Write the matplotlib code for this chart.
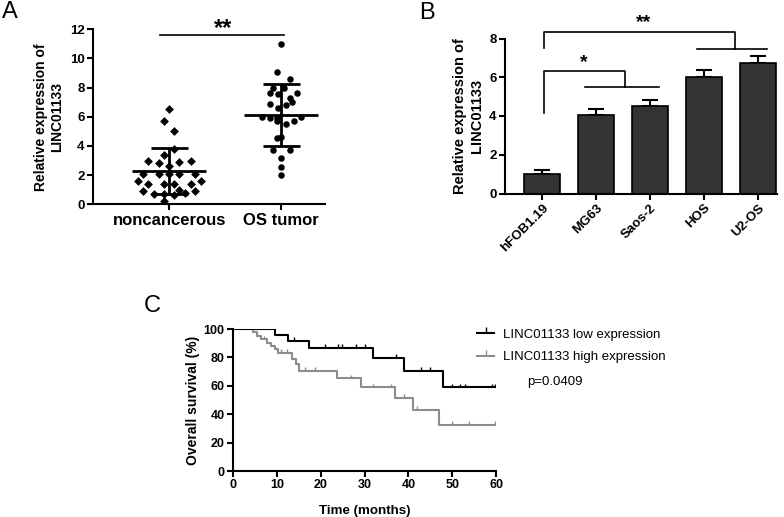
import matplotlib
matplotlib.use("Agg")
import matplotlib.pyplot as plt
from matplotlib.lines import Line2D

plt.rcParams['font.family'] = ['Liberation Sans', 'DejaVu Sans']

# ---- panel A: scatter with mean +/- SD
groups_a = ["noncancerous", "OS tumor"]
normal_dx = [0, -0.05, 0.045, 0.045, -0.05, -0.19, -0.095, 0.09, 0.19, 0,
             -0.235, -0.095, 0, 0.09, 0.23, -0.28, -0.19, -0.05, 0.045, 0.19,
             0.28, -0.235, 0.09, 0.23, -0.14, -0.05, 0.045, 0.14, -0.05]
normal_val = [6.51, 5.69, 5.0, 3.8, 3.4, 2.97, 2.8, 2.93, 2.97, 2.65,
              2.1, 2.06, 2.06, 2.06, 2.1, 1.6, 1.42, 1.42, 1.42, 1.42,
              1.6, 0.91, 0.96, 0.91, 0.69, 0.69, 0.64, 0.8, 0.25]
tumor_dx = [0, -0.035, 0.075, -0.07, 0.02, -0.105, -0.025, 0.14, 0.075, -0.105,
            0.1, -0.025, 0.04, -0.175, -0.105, -0.04, 0.175, -0.035, 0.04, 0.11,
            -0.035, 0, -0.07, 0.075, 0, 0, 0]
tumor_val = [11.0, 9.1, 8.6, 8.0, 8.0, 7.6, 7.57, 7.6, 7.3, 6.9,
             7.04, 6.6, 6.8, 6.0, 5.94, 5.9, 6.0, 5.7, 5.5, 5.7,
             4.57, 4.64, 3.7, 3.7, 3.2, 2.58, 2.0]
means_a = [2.25, 6.13]
sd_lo_a = [0.71, 4.02]
sd_hi_a = [3.84, 8.25]

# ---- panel B: bars
cells = ["hFOB1.19", "MG63", "Saos-2", "HOS", "U2-OS"]
bar_val = [1.02, 4.03, 4.5, 6.02, 6.72]
bar_err = [0.18, 0.32, 0.32, 0.38, 0.37]

# ---- panel C: Kaplan-Meier steps
low_t = [0, 9.5, 12.5, 17.3, 32, 39, 48, 60]
low_s = [100, 95.5, 91.6, 86.7, 79.6, 70.3, 59.0, 59.0]
low_cens_t = [1.4, 2.4, 3.4, 4.5, 5.5, 6.5, 7.5, 8.7, 13.9, 21.1, 24, 24.9, 28,
              30, 37.1, 43.0, 45, 49.9, 51.8, 53, 59, 59.8]
high_t = [0, 4.5, 5.5, 6.5, 7.8, 8.6, 9.5, 10.2, 13.5, 14.3, 15, 23.7, 29.1,
          37, 41, 47, 60]
high_s = [100, 97.6, 95.2, 92.8, 90.4, 88.0, 85.6, 83.2, 79.2, 75.2, 70.6,
          65.3, 59.0, 51.6, 43.0, 32.4, 32.4]
high_cens_t = [7, 11, 12.3, 16.5, 18.6, 27, 32, 36, 39, 41.9, 49.9, 53.9, 59.8]


def km_at(ts, ss, t):
    s = ss[0]
    for ti, si in zip(ts, ss):
        if ti <= t:
            s = si
    return s


def style_axes(ax, size):
    for side in ["top", "right"]:
        ax.spines[side].set_visible(False)
    for side in ["left", "bottom"]:
        ax.spines[side].set_linewidth(1.5)
    ax.tick_params(width=1.5, length=4, labelsize=size, pad=2)
    for lab in ax.get_xticklabels() + ax.get_yticklabels():
        lab.set_fontweight("bold")


W, H = 784, 517
fig = plt.figure(figsize=(W / 100, H / 100), dpi=100)


def box(l, r, t, b):
    return [l / W, 1 - b / H, (r - l) / W, (b - t) / H]


# A
axA = fig.add_axes(box(93, 325, 29.3, 204.3))
axA.scatter([0 + d for d in normal_dx], normal_val, marker="D", s=20,
            color="black", zorder=3, linewidths=0)
axA.scatter([1 + d for d in tumor_dx], tumor_val, marker="o", s=22,
            color="black", zorder=3, linewidths=0)
for i in range(2):
    axA.hlines(means_a[i], i - 0.33, i + 0.33, color="black", lw=2)
    axA.vlines(i, sd_lo_a[i], sd_hi_a[i], color="black", lw=2)
    axA.hlines([sd_lo_a[i], sd_hi_a[i]], i - 0.165, i + 0.165, color="black", lw=2)
axA.plot([-0.08, 1.02], [11.6, 11.6], color="black", lw=1.2, clip_on=False)
axA.text(0.48, 12.05, "**", ha="center", va="center", fontsize=17,
         fontweight="bold")
axA.set_xlim(-0.68, 1.39)
axA.set_ylim(0, 12)
axA.set_yticks(range(0, 13, 2))
axA.set_xticks([0, 1])
axA.set_xticklabels(groups_a)
style_axes(axA, 9.5)
for lab in axA.get_xticklabels():
    lab.set_fontsize(12)
axA.set_ylabel("Relative expression of\nLINC01133", fontsize=10,
               fontweight="bold", labelpad=4)

# B
axB = fig.add_axes(box(505, 777, 38.5, 193.5))
xb = list(range(len(cells)))
axB.bar(xb, bar_val, width=0.67, color="#333333", edgecolor="black", lw=1.2,
        zorder=2)
axB.errorbar(xb, bar_val, yerr=[[0] * len(cells), bar_err], fmt="none",
             ecolor="black", elinewidth=1.5, capsize=6, capthick=1.5, zorder=1)
axB.plot([0.03, 0.03, 1.53, 1.53], [4.17, 6.33, 6.33, 5.5], color="black",
         lw=1.2, clip_on=False)
axB.plot([0.79, 2.16], [5.5, 5.5], color="black", lw=1.2, clip_on=False)
axB.text(0.77, 6.75, "*", ha="center", va="center", fontsize=14,
         fontweight="bold")
axB.plot([0.03, 0.03, 3.58, 3.58], [7.5, 8.33, 8.33, 7.45], color="black",
         lw=1.2, clip_on=False)
axB.plot([2.86, 4.17], [7.45, 7.45], color="black", lw=1.2, clip_on=False)
axB.text(1.88, 8.8, "**", ha="center", va="center", fontsize=14,
         fontweight="bold", clip_on=False)
axB.set_xlim(-0.69, 4.35)
axB.set_ylim(0, 8)
axB.set_yticks(range(0, 9, 2))
axB.set_xticks(xb)
axB.set_xticklabels(cells, rotation=45, ha="right", rotation_mode="anchor")
style_axes(axB, 9.5)
axB.set_ylabel("Relative expression of\nLINC01133", fontsize=10.5,
               fontweight="bold", labelpad=4)

# C
axC = fig.add_axes(box(233, 496, 329, 471))
gray = "#8c8c8c"
axC.step(low_t, low_s, where="post", color="black", lw=1.5, zorder=3)
axC.step(high_t, high_s, where="post", color=gray, lw=1.5, zorder=2)
axC.vlines(low_cens_t, [km_at(low_t, low_s, t) for t in low_cens_t],
           [km_at(low_t, low_s, t) + 2.6 for t in low_cens_t],
           color="black", lw=1, zorder=3)
axC.vlines(high_cens_t, [km_at(high_t, high_s, t) for t in high_cens_t],
           [km_at(high_t, high_s, t) + 2.6 for t in high_cens_t],
           color=gray, lw=1, zorder=2)
axC.set_xlim(0, 60)
axC.set_ylim(0, 100)
axC.set_xticks(range(0, 61, 10))
axC.set_yticks(range(0, 101, 20))
style_axes(axC, 9)
axC.set_xlabel("Time (months)", fontsize=9.6, fontweight="bold", labelpad=10)
axC.set_ylabel("Overall survival (%)", fontsize=10, fontweight="bold",
               labelpad=3)
handles = [Line2D([], [], color="black", lw=1.5, marker=2, markersize=4,
                  markeredgewidth=1),
           Line2D([], [], color=gray, lw=1.5, marker=2, markersize=4,
                  markeredgewidth=1)]
fig.legend(handles, ["LINC01133 low expression", "LINC01133 high expression"],
           loc="center left", bbox_to_anchor=(477 / W, 1 - 346 / H),
           frameon=False, fontsize=9.5, handlelength=1.3, handletextpad=0.7,
           labelspacing=0.75, numpoints=1, borderpad=0, borderaxespad=0)
fig.text(527 / W, 1 - 382 / H, "p=0.0409", fontsize=9.5, va="center")

# panel letters
fig.text(10 / W, 1 - 12 / H, "A", fontsize=17, ha="center", va="center")
fig.text(427 / W, 1 - 13 / H, "B", fontsize=17, ha="center", va="center")
fig.text(152 / W, 1 - 306 / H, "C", fontsize=17, ha="center", va="center")

fig.savefig("out.png", dpi=100)
